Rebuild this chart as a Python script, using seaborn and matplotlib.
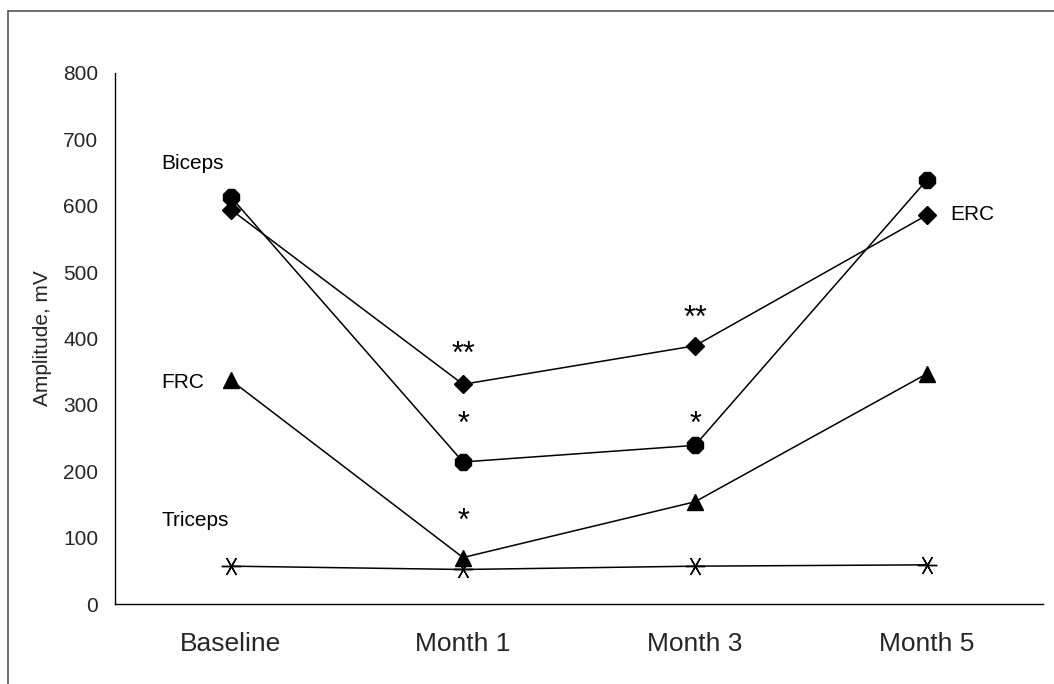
import matplotlib
matplotlib.use("Agg")
import matplotlib.pyplot as plt
import seaborn as sns
import pandas as pd
from matplotlib.lines import Line2D

sns.set_theme(style="white")
plt.rcParams['font.family'] = ['Liberation Sans', 'DejaVu Sans']

timepoints = ["Baseline", "Month 1", "Month 3", "Month 5"]
biceps = [613, 214, 239, 639]
erc = [594, 331, 389, 586]
frc = [337, 70, 154, 347]
triceps = [57, 52, 57, 59]
y_ticks = [0, 100, 200, 300, 400, 500, 600, 700, 800]

series_names = ["Biceps", "ERC", "FRC", "Triceps"]
series_values = [biceps, erc, frc, triceps]

# significance marks: (timepoint index, value, text)
sig_x = [1, 1, 1, 2, 2]
sig_y = [376, 270, 124, 430, 270]
sig_txt = ["**", "*", "*", "**", "*"]

# series labels
lab_txt = ["Biceps", "FRC", "Triceps", "ERC"]
lab_x = [-0.3, -0.3, -0.3, 3.1]
lab_y = [664, 334, 126, 587]

rows = []
for name, vals in zip(series_names, series_values):
    for i, v in enumerate(vals):
        rows.append({"series": name, "x": i, "value": v})
df = pd.DataFrame(rows)

fig = plt.figure(figsize=(10.54, 6.84), dpi=100)
ax = fig.add_axes([115/1054, 1-604/684, (1043-115)/1054, (604-73)/684])

markers = {"Biceps": "8", "ERC": "D", "FRC": "^", "Triceps": (6, 2, 90)}
sizes = {"Biceps": 12, "ERC": 9, "FRC": 12, "Triceps": 14}
for name in series_names:
    sub = df[df.series == name]
    sns.lineplot(data=sub, x="x", y="value", ax=ax, color="black", lw=1.1,
                 marker=markers[name], markersize=sizes[name],
                 markerfacecolor="black", markeredgecolor="black",
                 markeredgewidth=1.0, legend=False)

for x, y, t in zip(sig_x, sig_y, sig_txt):
    ax.text(x, y, t, ha="center", va="center", fontsize=22, color="black")

for x, y, t in zip(lab_x, lab_y, lab_txt):
    ax.text(x, y, t, ha="left", va="center", fontsize=15, color="black")

ax.set_xlim(-0.5, 3.5)
ax.set_ylim(0, 800)
ax.set_yticks(y_ticks)
ax.set_yticklabels([str(v) for v in y_ticks], fontsize=15)
ax.set_xticks([-0.5, 0.5, 1.5, 2.5, 3.5])
ax.set_xticklabels([])
ax.set_xticks(range(len(timepoints)), minor=True)
ax.set_xticklabels(timepoints, minor=True, fontsize=19)
ax.tick_params(axis="x", which="minor", length=0, pad=20)
ax.tick_params(axis="x", which="major", length=6, width=1, direction="out", color="black")
ax.tick_params(axis="y", length=6, width=1, direction="out", color="black", pad=6)
ax.set_xlabel("")
ax.set_ylabel("Amplitude, mV", fontsize=15, labelpad=8)

for s in ["top", "right"]:
    ax.spines[s].set_visible(False)
for s in ["left", "bottom"]:
    ax.spines[s].set_color("black")
    ax.spines[s].set_linewidth(1.0)

# outer frame (top and left edges)
fig.add_artist(Line2D([8/1054, 1], [1-11/684, 1-11/684], color="#555555", lw=1.2, transform=fig.transFigure))
fig.add_artist(Line2D([8/1054, 8/1054], [0, 1-11/684], color="#555555", lw=1.2, transform=fig.transFigure))

fig.savefig("out.png", dpi=100, facecolor="white")
